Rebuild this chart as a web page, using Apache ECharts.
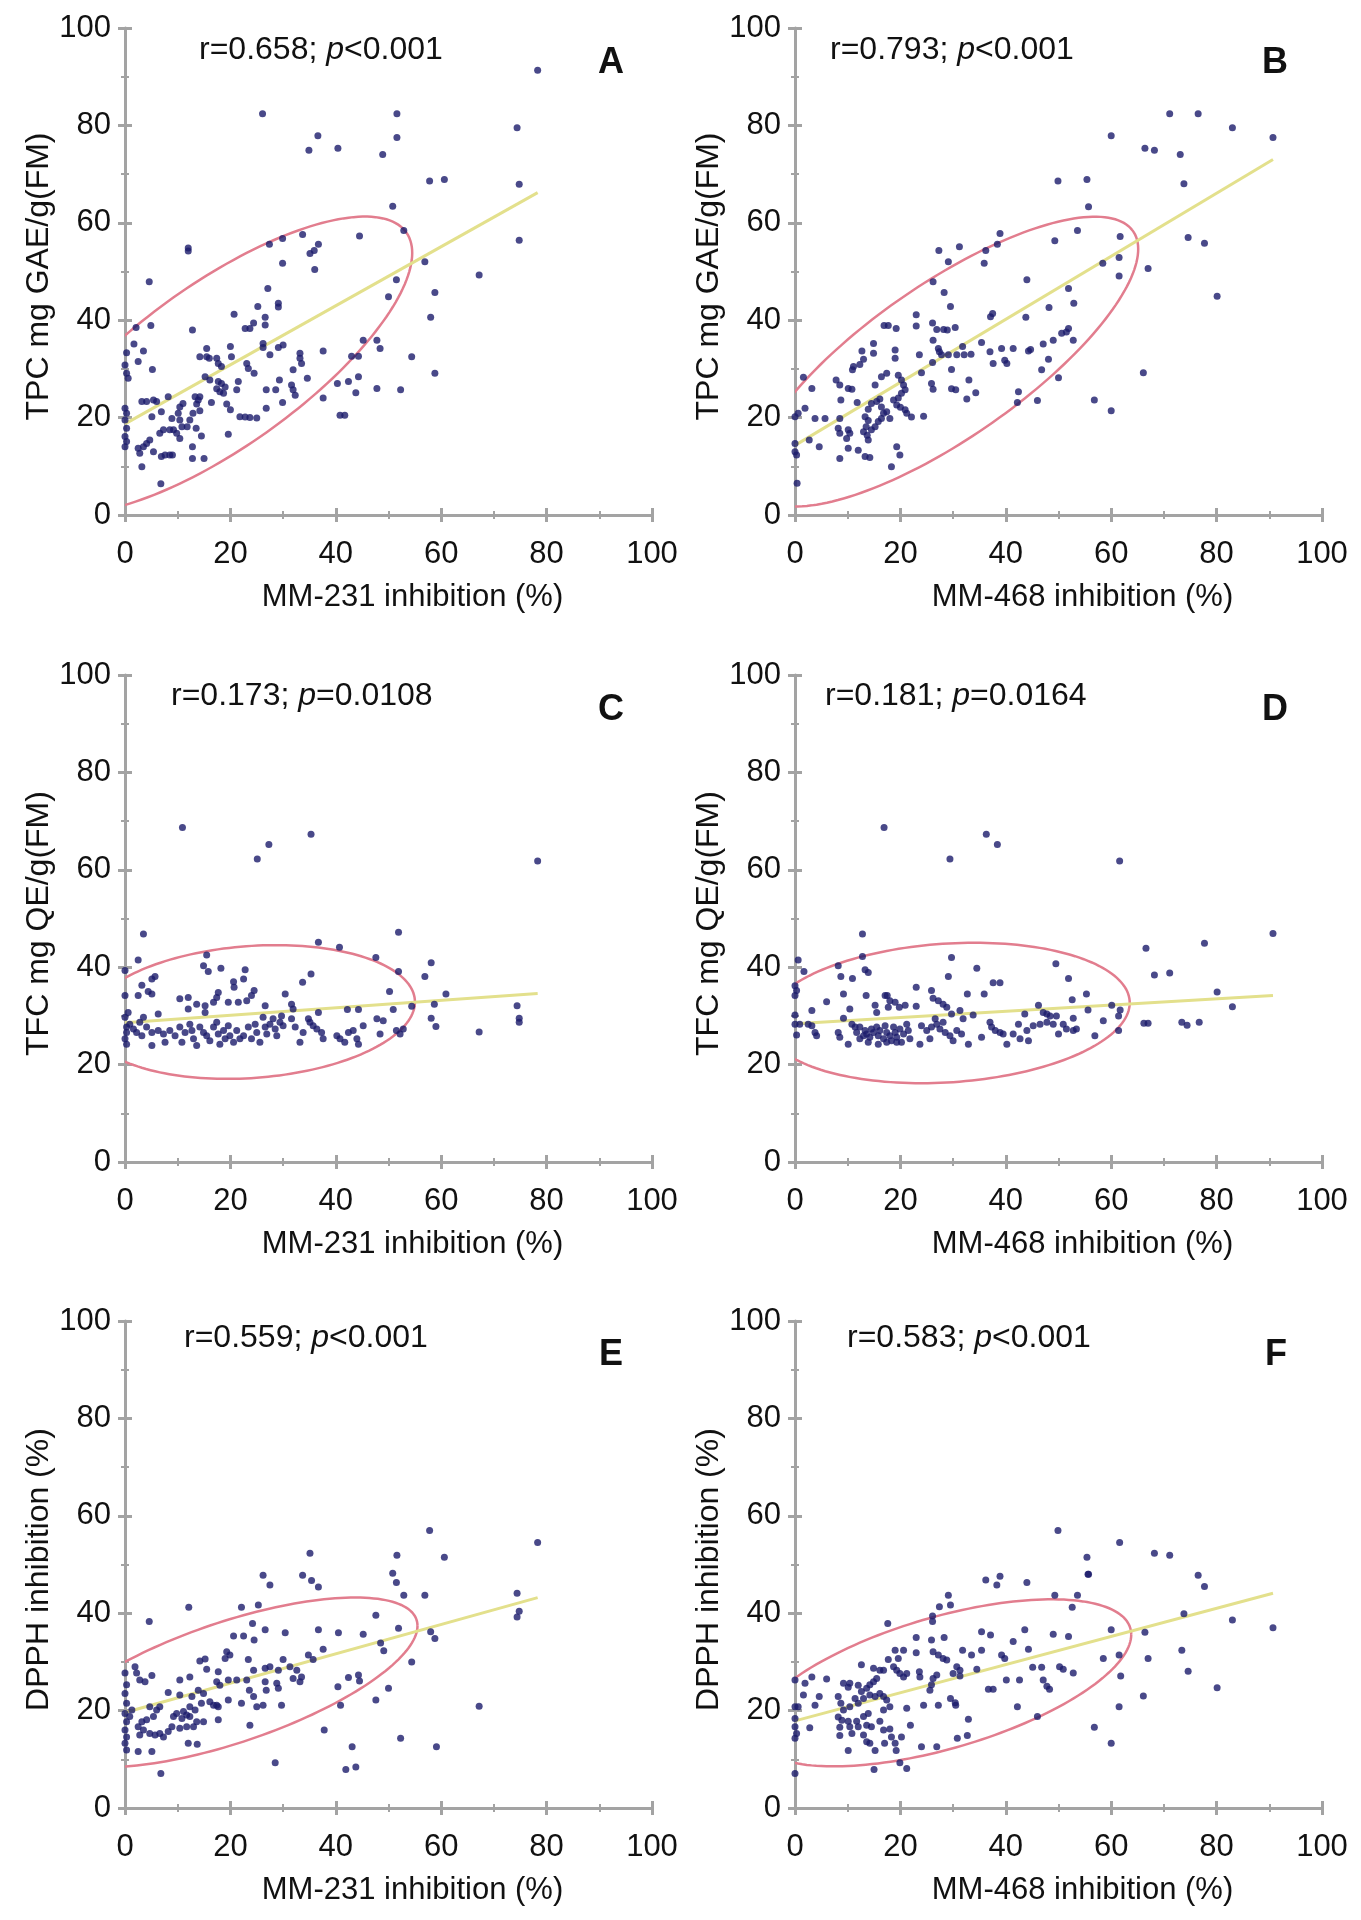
<!DOCTYPE html>
<html>
<head>
<meta charset="utf-8">
<script src="https://cdn.jsdelivr.net/npm/echarts@6/dist/echarts.min.js"></script>
<style>
html,body{margin:0;padding:0;background:#fff;}
#chart{width:1361px;height:1920px;}
</style>
</head>
<body>
<div id="chart"></div>
<script>
// ---------- DATA ----------
const xTicks = [0, 20, 40, 60, 80, 100];
const yTicks = [0, 20, 40, 60, 80, 100];
const xNames = ['MM-231 inhibition (%)', 'MM-468 inhibition (%)', 'MM-231 inhibition (%)', 'MM-468 inhibition (%)', 'MM-231 inhibition (%)', 'MM-468 inhibition (%)'];
const yNames = ['TPC mg GAE/g(FM)', 'TPC mg GAE/g(FM)', 'TFC mg QE/g(FM)', 'TFC mg QE/g(FM)', 'DPPH inhibition (%)', 'DPPH inhibition (%)'];
const rValues = ['0.658', '0.793', '0.173', '0.181', '0.559', '0.583'];
const pValues = ['<0.001', '<0.001', '=0.0108', '=0.0164', '<0.001', '<0.001'];
const panelLetters = ['A', 'B', 'C', 'D', 'E', 'F'];

// panel A: TPC vs MM-231
const tpc231 = [[50.8,63.4],[52.9,58.4],[44.5,57.3],[33.7,57.6],[29.9,56.8],[27.4,55.6],[36.7,55.6],[35.9,54.3],[35.1,53.7],[36,50.4],[29.9,51.7],[12,54.8],[12,54.2],[4.6,47.9],[27.1,46.5],[25.2,42.8],[29.1,43.5],[29.1,42.7],[20.7,41.2],[26.6,40.6],[26.6,39],[24.4,39.4],[23.7,38.3],[22.8,38.3],[2.1,38.5],[4.9,38.9],[12.8,38],[26.2,35.2],[26.2,34.4],[30,34.9],[29.1,34.4],[27.5,32.9],[1.7,35.1],[3.5,33.7],[0.3,33.3],[2.5,31.5],[0,30.8],[0.3,29.1],[0.6,28.1],[5.2,29.9],[15.5,34.2],[14.2,32.5],[15.5,32.5],[16,32.2],[17.4,32.2],[17.7,31.1],[18.3,30.5],[20,34.6],[20.2,32.5],[23.1,31.1],[23.4,30.1],[24.5,29.1],[15.2,28.4],[16.1,27.7],[17.7,27.4],[18.3,27],[19,26.3],[17.4,25.9],[18,25.3],[18.7,25],[21.2,25.7],[21.5,27.4],[33.2,33.2],[33.2,32.2],[33.5,31.1],[31.9,29.8],[34.6,28.1],[29.3,27.7],[31.6,26.7],[31.9,25.7],[32.3,24.6],[26.8,25.7],[28.6,25.7],[29.9,23.1],[26.8,21.9],[37.6,33.7],[43,32.6],[44.3,32.6],[45.2,35.9],[47.8,35.9],[48.4,34.2],[54.4,32.5],[58.8,29.1],[40.3,27],[42.4,27.4],[44.3,28.4],[43.8,25.1],[47.8,26],[52.3,25.7],[37.6,24],[40.8,20.5],[41.7,20.5],[50,44.8],[51.5,48.3],[56.9,52],[58,40.6],[58.8,45.7],[20,21.6],[21.8,20.2],[22.8,20.1],[23.7,20],[25,19.9],[19.6,16.6],[19.3,22.8],[16.4,23.1],[14.2,24.3],[13.9,23.6],[13.6,22.8],[13.3,24.3],[14.2,21.4],[12.9,20.9],[12.3,19.5],[11.8,18.1],[11,22.9],[10.4,22.2],[10.1,20.9],[10.4,19.5],[10.8,18.1],[9.8,16.8],[10.4,15.7],[8.9,19.8],[9.2,17.5],[8.2,24.3],[6.9,21.2],[5.1,20.2],[3.2,23.3],[4.1,23.3],[5.4,23.6],[6,23.3],[0,21.9],[0.3,20.9],[0,19.5],[0.3,17.8],[0,16.1],[0.3,15.1],[0,14],[2.5,13.7],[2.8,12.7],[3.5,14],[4.1,14.7],[4.7,15.4],[5.4,13],[6.6,16.8],[6.9,12],[7.3,17.5],[8.5,17.5],[7.6,12.3],[8.5,12.3],[9,12.3],[3.2,9.9],[6.8,6.4],[12.8,14],[12.8,11.6],[15,11.6],[14.5,16.2],[13.5,17.8],[78.3,91.3],[26.1,82.4],[51.6,82.4],[51.6,77.5],[74.4,79.5],[36.6,77.9],[34.9,74.9],[40.4,75.3],[48.9,74],[74.8,67.9],[57.8,68.6],[60.6,68.9],[74.8,56.4],[67.2,49.3]];

// panel B: TPC vs MM-468
const tpc468 = [[55.7,63.3],[53.6,58.4],[49.3,56.3],[61.7,57.2],[58.4,51.7],[61.5,52.9],[61.5,49.1],[44,48.3],[38.9,57.8],[38.4,55.6],[36.2,54.3],[35.9,51.7],[31.2,55.1],[27.3,54.3],[29.1,52],[26.2,47.9],[28.3,45.7],[29.5,42.8],[23,41.1],[23,38.8],[16.9,38.9],[17.7,38.9],[19.2,38.3],[26.1,39.4],[26.9,38.1],[28.2,38.1],[28.9,38],[30.4,38.5],[26.2,35.9],[37.1,40.7],[37.5,41.4],[43.8,40.6],[48.2,42.6],[51.9,46.5],[52.9,43.5],[52.8,35.9],[51.9,38.3],[51.5,37.6],[50.6,37.3],[49,35.9],[47.1,35.1],[48.1,32],[46.8,29.8],[50,28.2],[44.7,34],[44.3,33.7],[41.4,34.2],[39.2,34.2],[39.8,31.8],[40.2,31.1],[37.6,31.1],[37,33.5],[35.4,35.4],[31.8,34.6],[33.4,33],[32.1,32.9],[30.7,32.9],[29.1,32.9],[27.8,32.9],[27.2,34.2],[27.4,33.5],[26.1,31.3],[23.6,32.9],[29.7,29.9],[24,29.2],[33,27.7],[29.7,25.9],[30.5,25.7],[34.3,25.1],[32.6,23.8],[42.4,25.3],[42.2,23.1],[46,23.5],[56.8,23.6],[60,21.4],[25.9,27],[26.2,25.8],[24.4,20.3],[22.1,20.1],[19,33.9],[19,32.2],[14.9,35.2],[14.9,33.2],[12.7,33.7],[13,32],[12.3,30.9],[11.1,30.5],[10.9,29.8],[7.8,27.7],[8.5,26.7],[10.1,26],[10.8,25.8],[17.4,29.1],[16.4,28.4],[15.2,26.7],[19.6,28.7],[20.2,27.7],[20.6,26.7],[20.9,25.7],[20.2,25],[19.6,24],[18.7,23.6],[16.1,23.8],[15.5,23.3],[14.5,22.9],[13.9,21.7],[16.4,22.2],[17.4,21.2],[18,19.8],[19.3,22.6],[20,22.1],[20.9,21.6],[21.2,20.9],[11.8,23.1],[8.7,23.6],[13.3,20.2],[13.9,19.4],[13.5,18.1],[13,17.1],[13.7,16.4],[14.5,17.5],[15.2,18.1],[13.9,15.4],[15.8,19.2],[16.4,19.8],[16.8,20.9],[8.5,19.8],[8.2,17.8],[8.5,16.8],[9.8,15.7],[10.4,16.8],[10.1,17.5],[8.5,11.6],[10.1,13.7],[12,13.3],[13.3,12],[14.2,11.8],[5.7,19.8],[3.8,19.8],[1.9,21.9],[0.6,20.9],[0,20.2],[1.6,28.3],[3.2,26],[2.7,15.4],[4.6,14],[0,14.7],[0.3,12.3],[0,13],[0.4,6.5],[18.3,9.9],[19.3,14],[19.9,12.3],[71.1,82.4],[76.5,82.4],[83,79.5],[90.7,77.5],[60,77.9],[66.4,75.3],[68.2,74.9],[73.1,74],[73.8,68],[49.9,68.6],[55.4,68.9],[74.6,57],[77.7,55.8],[67,50.6],[80.1,44.9],[66.1,29.2]];

// panel C: TFC vs MM-231
const tfc231 = [[3.5,46.8],[2.5,41.5],[0,39.3],[15.5,42.5],[14.9,40.3],[15.8,39.1],[18.2,39.8],[22.8,39.5],[22.5,37.6],[20.6,37],[20.7,35.9],[5.7,38.1],[5.1,37.6],[3.2,36.3],[4.4,35],[5.1,34.5],[0,34.2],[2.5,34.2],[36.7,45.1],[40.7,44.1],[51.9,47.2],[47.6,42],[51.9,39.1],[56.9,38.1],[58.1,40.9],[35.3,38.6],[33.7,36.9],[60.9,34.5],[50.2,35],[30.4,34.5],[24.5,35.2],[24,34.2],[23.1,33.1],[17.7,34.8],[17.4,33.8],[16.8,32.8],[19.6,32.8],[21.5,32.8],[10.4,33.5],[12,33.8],[13.6,32.4],[15.2,32.1],[15.2,30.7],[12,31.4],[26.6,32.1],[31.6,32.4],[31.9,31.4],[36.7,30.7],[42.2,31.3],[44.3,31.3],[50.9,31.3],[54.4,32],[58.7,32.4],[58.1,29.5],[59,27.8],[0,29.7],[0.6,30.7],[6.3,30.4],[3.5,29.7],[2.8,28.7],[0.9,28.3],[0.3,27.7],[0.3,26.6],[0,25.3],[0.3,24.2],[1.6,27.3],[2.2,26.6],[3.2,25.9],[4.1,27.7],[5.1,26.6],[5.1,23.9],[6.3,27],[7.3,26.3],[7.6,24.6],[8.5,27],[9.5,25.9],[10.4,27.7],[10.8,24.6],[11.4,26.6],[12.3,28.3],[12.7,27],[13,25.3],[13.6,23.9],[14.2,27.7],[14.9,26.6],[15.5,25.9],[16.1,24.9],[16.8,27.7],[17.4,28.7],[17.7,26.3],[18,24.2],[18.7,27],[19,25.3],[19.6,28],[19.9,25.9],[20.6,24.6],[21.2,27],[21.8,25.3],[22.5,25.9],[23.4,27.7],[24,25.3],[24.7,28.3],[25,26.6],[25.6,24.6],[26.2,29.7],[26.6,27.7],[26.9,26.3],[27.5,28.3],[28.1,29.4],[28.5,27.3],[28.8,25.9],[29.4,28.7],[29.7,30],[30,28],[31.6,29.4],[32.3,27.7],[33.2,24.6],[33.8,26.6],[34.8,29.4],[35.1,28.7],[35.7,28],[36.4,27.3],[37.3,26.6],[37.6,25.3],[40.2,25.9],[40.8,25.3],[41.7,24.6],[42.4,26.6],[43.3,27],[44,25.3],[44.3,24.2],[45.2,28],[47.8,29.4],[48.4,26.3],[49,29],[51.5,27],[52.2,26.3],[52.8,27.3],[10.9,68.7],[25.1,62.2],[27.3,65.2],[35.3,67.3],[78.3,61.8],[74.4,32.1],[74.8,29.5],[74.8,28.7],[67.2,26.7]];

// panel D: TFC vs MM-468
const tfc468 = [[12.8,46.8],[12.8,42.2],[0.6,41.5],[8.2,40.3],[13.3,39.5],[13.9,38.9],[1.7,39.1],[8.7,38.1],[10.9,37.7],[29.7,42],[29.1,38.1],[34.5,39.8],[37.6,36.8],[38.9,36.8],[49.5,40.7],[51.9,37.7],[0,36.2],[0.3,35.2],[0,34.2],[23,35.9],[25.9,35.2],[32.7,34.5],[35.9,34.5],[55.3,34.5],[9.2,34.5],[13.5,34.2],[17.1,34.2],[17.5,34.2],[52.6,33.3],[6,32.9],[15.2,32.2],[15.5,30.7],[18,33.1],[19,32.8],[19.8,31.8],[20.9,32.2],[23,32],[26.2,33.6],[27.2,33.1],[28.1,32.4],[28.8,31.8],[17.7,31.8],[10.4,31.4],[3.2,31.1],[46.2,32.2],[55.6,31.2],[60.1,32.2],[61.7,31.2],[61.4,30],[31.3,31.1],[29.7,30.4],[31.9,29.4],[33.8,30.2],[43.6,30.4],[47.1,30.7],[47.8,30.4],[48.4,30],[49.6,30],[52.8,29.5],[58.5,29],[0,30.2],[0,28.3],[0.9,28.3],[2.5,28.3],[3.2,28],[0.3,26.1],[3.8,26.6],[4.1,25.9],[9.2,29.5],[8.2,26.6],[8.5,25.6],[10.1,24.2],[10.8,28.3],[11.4,27.7],[12.3,27.7],[13.3,27],[13.6,26.3],[14.2,25.6],[14.5,27.3],[14.9,26.6],[15.5,27.7],[15.8,25.9],[16.1,27],[16.8,25.3],[17.1,28],[17.4,26.6],[18,25.9],[18.3,24.9],[18.7,27.7],[19,26.6],[19.3,25.6],[19.9,27.3],[20.2,24.6],[20.6,26.3],[21.2,28.3],[21.5,27],[21.8,25.3],[12.3,25.3],[13,25.9],[11.7,26.6],[13.9,24.6],[15.8,24.2],[17.4,24.6],[19.3,24.6],[24,28],[23.7,24.2],[25,27],[25.6,25.3],[25.9,27.7],[26.6,29.4],[26.9,28.3],[27.5,27.3],[28.1,28.7],[28.5,26.6],[29.4,25.9],[30,24.9],[30.7,27],[31.6,26.3],[32.9,24.2],[35.4,25.6],[37,28.7],[37.3,27.7],[38,27],[38.9,26.6],[39.5,26.3],[40.2,24.2],[41.4,26.3],[42.4,28.3],[42.7,25.3],[44,27],[44.3,24.9],[45.2,28],[46.5,28.3],[47.8,28.7],[49,28.3],[50,26.3],[50.9,28.3],[51.5,27.3],[52.8,27],[53.4,27.3],[56.9,25.9],[61.4,27],[16.9,68.7],[36.3,67.3],[38.4,65.2],[29.4,62.2],[61.6,61.8],[90.7,46.9],[66.6,43.9],[77.7,44.9],[68.2,38.4],[71.1,38.8],[80.1,34.9],[83,31.9],[66.2,28.5],[67,28.5],[73.4,28.7],[74.4,28.1],[76.7,28.7]];

// panel E: DPPH vs MM-231
const dpph231 = [[26.2,47.8],[27.5,45.8],[33.7,47.8],[35.4,46.7],[36.7,45.4],[50.8,48.2],[51.5,46.3],[52.9,43.7],[56.9,43.7],[12.1,41.2],[22.1,41.2],[25.3,41.7],[4.6,38.3],[47.6,39.6],[24.2,37.9],[26.6,36.6],[30.4,36],[36.7,36.6],[40.5,36],[45.2,35.7],[51.9,36.9],[58,36.2],[58.8,34.8],[48.5,33.9],[49.1,32.3],[20.6,35.3],[22.5,35.3],[24.5,34.5],[37.6,32.6],[54.4,30],[19.3,32.1],[19.9,31.4],[19,30.7],[14.2,30.2],[15.2,30.6],[15.5,28.5],[17.7,28],[17.4,25.9],[18,25.2],[23.4,30.5],[24.4,28.3],[26.6,28.7],[27.5,29],[29.1,28.3],[30,30.5],[31.3,29],[32.6,28.3],[33.5,26.9],[31.9,26.6],[33.2,25.9],[34.8,31.4],[35.7,30.5],[19.6,26.3],[21.2,26.3],[23.1,26.3],[26.6,25.9],[28.8,25.6],[26.8,24.2],[29.1,24.6],[23.6,24.2],[24.4,22.9],[22.1,21.5],[25,20.8],[26.2,21.1],[19.6,22.2],[17.4,21.1],[17.7,20.8],[29.7,21.1],[17.7,18.1],[23.7,17],[10.4,26.3],[12.3,26.9],[8.2,23.7],[10.4,23.2],[12.7,22.9],[13.9,24.2],[14.9,23.5],[12.3,20.8],[13.3,20.1],[14.5,21.5],[16.1,21.8],[16.8,21.1],[11.1,19.8],[9.8,19.4],[9.2,18.8],[10.8,18.4],[11.7,19.1],[12.3,18.8],[13.6,17.7],[13,16.7],[14.9,17.7],[8.9,16.7],[10.4,16.4],[11.7,16.7],[7.3,14.6],[8.2,15.7],[6.6,15.3],[12,13.3],[13.7,13.1],[4.7,20.8],[6,20.1],[6.6,20.8],[5.4,18.8],[4.1,18.1],[3.2,17.7],[2.5,16.7],[3.5,16],[4.7,15.3],[5.7,15],[2.8,15],[5.1,11.6],[2.5,11.6],[6.8,7.1],[3.8,25.9],[1.9,29],[2.2,27.7],[2.8,26.3],[5.1,27.2],[0,27.7],[0.3,25.3],[0,23.5],[0.3,21.5],[0,19.4],[0.3,17.7],[0,16],[0.3,14.6],[0,13.3],[0.3,11.9],[0.9,18.8],[1.3,20.1],[28.5,9.3],[37.8,16],[40.4,24.9],[40.9,21.1],[42.4,26.8],[44.3,27.3],[44.5,26.1],[50,24.6],[47.6,22.2],[43.1,12.6],[41.9,7.9],[43.8,8.4],[52.3,14.3],[59.1,12.6],[57.8,57],[78.3,54.5],[60.6,51.5],[51.6,51.9],[35.1,52.3],[74.4,44.1],[74.8,40.4],[74.4,39.2],[67.2,20.9]];

// panel F: DPPH vs MM-468
const dpph468 = [[36.2,46.8],[38.9,47.6],[38.3,45.8],[44,46.3],[55.7,48],[29.1,43.7],[29.5,41.7],[27.4,41.3],[26.1,39.4],[26.1,38.3],[49.3,43.7],[53.6,43.7],[52.6,41.2],[17.6,37.9],[35.4,36.2],[37.1,35.5],[43.6,36.6],[49,35.7],[51.9,35.2],[60,36.6],[23,35],[25.9,34.5],[28.3,35],[41.4,34.2],[44.3,32.6],[19,32.4],[20.6,32.4],[23,31.9],[26.2,32.1],[27.2,31.4],[28.1,30.7],[28.8,30.4],[31.8,32.4],[33.5,31.4],[35.4,32.4],[39.2,31.4],[39.8,30.7],[58.5,30.7],[61.5,31.4],[61.8,27.1],[61.5,20.8],[17.7,30.5],[19.6,30.7],[12.6,29.4],[14.9,28.7],[16.1,28.3],[18.7,29],[19.3,28.3],[19.9,27.6],[20.6,26.9],[21.2,27.6],[16.8,28.3],[23.6,28],[23.7,26.9],[26.2,26.6],[26.9,27.3],[25.9,25.3],[25.6,24.2],[30.7,29],[31.3,28.3],[30,27.6],[31.3,27.1],[34.5,28.5],[45.1,28.9],[46.8,28.9],[50.2,29],[50.9,28.5],[52.8,27.7],[40.1,26.3],[42.6,26.3],[47.1,26.3],[47.8,25],[48.3,24.4],[36.7,24.4],[37.6,24.4],[29.5,22.5],[30.4,21.6],[30.5,21.1],[27.2,21.1],[24.4,21.1],[21.2,20.5],[21.9,17],[32.9,18.2],[30.8,14.3],[32.7,14.9],[26.9,12.6],[24,12.6],[42.2,20.8],[46,18.8],[56.8,16.6],[60,13.3],[19.9,9.3],[21.2,8.1],[15,7.9],[10.1,11.8],[15.2,11.8],[17,13.3],[19.2,11.8],[0,7.1],[0,26.3],[1.9,25.6],[3.2,26.9],[6,26.5],[1.6,23.2],[4.6,22.9],[3.8,21.1],[0,20.8],[0.6,20.8],[0,18.4],[0,16.7],[0.3,15.3],[0,14.3],[2.8,16.5],[8.2,22.9],[8.7,21.5],[9.2,25.6],[10.4,25.6],[10.1,24.8],[12,25.2],[12.6,23.9],[13.6,24.6],[14.2,25.3],[14.9,25.9],[15.5,26.6],[11.4,22.5],[12,21.5],[13,22.5],[14.2,23.2],[15.2,22.9],[16.1,23.5],[16.8,22.9],[17.4,22.2],[18,20.8],[16.8,20.1],[8.2,18.7],[8.9,18],[8.5,16.6],[8.5,14.9],[10.1,17.8],[10.4,16.7],[10.8,15.3],[11.7,17.8],[12,16.7],[13,18.8],[13.9,19.4],[13.6,17],[14.5,16.7],[13,15],[13.6,13.6],[14.2,13.3],[16.1,17.8],[16.8,16],[18,16.2],[18.3,14.6],[19,13.3],[20.2,14.6],[10.4,20.8],[9.2,20.1],[49.9,57],[61.6,54.5],[68.2,52.3],[71.1,51.9],[55.4,51.5],[55.6,48],[76.5,47.8],[77.7,45.5],[73.8,39.9],[83,38.6],[90.7,37],[73.4,32.4],[74.6,28.1],[67,30.7],[66.4,36.1],[66.1,23],[80.1,24.7]];

// regression line end points [x, y]
const trendA = [[0, 18.7], [78.3, 66.2]];
const trendB = [[0, 14.3], [90.7, 73.0]];
const trendC = [[0, 28.6], [78.3, 34.6]];
const trendD = [[0, 28.4], [90.7, 34.2]];
const trendE = [[0, 19.6], [78.3, 43.2]];
const trendF = [[0, 17.9], [90.7, 44.1]];

// highlight ellipses: centre, two conjugate semi-diameters (data units)
const ellipseA = { c: [18, 30.8], u: [36.5, 23], v: [0, 20] };
const ellipseB = { c: [28.5, 31.5], u: [35.5, 27], v: [-9, 12.5] };
const ellipseC = { c: [24, 30.8], u: [31, 2.5], v: [-1, 13.5] };
const ellipseD = { c: [29, 30.6], u: [34.5, 2.5], v: [-1, 14.2] };
const ellipseE = { c: [20, 25.8], u: [35.5, 11.6], v: [0, 13] };
const ellipseF = { c: [28, 25.7], u: [35.8, 9.9], v: [0, 14] };

// ---------- CHART ----------
const FONT = '"Liberation Sans", Arial, Helvetica, sans-serif';
const AXIS_COLOR = '#a3a3a3';
const POINT_COLOR = '#1b1b6b';
const TREND_COLOR = '#e3e08c';
const ELLIPSE_COLOR = '#e27d8e';

const panelData = [tpc231, tpc468, tfc231, tfc468, dpph231, dpph468];
const panelTrend = [trendA, trendB, trendC, trendD, trendE, trendF];
const panelEllipse = [ellipseA, ellipseB, ellipseC, ellipseD, ellipseE, ellipseF];

const gridLefts = [125, 795];
const gridTops = [28, 675, 1321];
const gridW = 527, gridH = 487;
const statY = [50, 696, 1338];
const letterY = [63, 710, 1355];
const statX = [199, 830, 171, 825, 184, 847];
const letterX = [611, 1275, 611, 1275, 611, 1276];

const grids = [], xAxes = [], yAxes = [], series = [], graphics = [];

function axisBase(i, isX, overlay) {
  const o = {
    type: 'value', gridIndex: i, min: 0, max: 100, interval: 20,
    position: isX ? 'bottom' : 'left', offset: 0,
    splitLine: { show: false },
    axisLine: { show: !overlay, onZero: false, lineStyle: { color: AXIS_COLOR, width: 3 } },
    axisTick: { show: true, inside: overlay, length: 7, lineStyle: { color: AXIS_COLOR, width: 3 } },
    minorTick: { show: true, splitNumber: 2, length: 4, lineStyle: { color: AXIS_COLOR, width: 2 } },
    axisLabel: {
      show: !overlay, fontSize: 31, color: '#111', fontFamily: FONT,
      margin: isX ? 24 : 14,
      formatter: function (v) { return String((isX ? xTicks : yTicks).indexOf(v) >= 0 ? v : ''); }
    }
  };
  if (!overlay) {
    o.name = isX ? xNames[i] : yNames[i];
    o.nameLocation = 'middle';
    o.nameGap = isX ? 67 : 68;
    o.nameTextStyle = isX
      ? { fontSize: 31, color: '#111', fontFamily: FONT, padding: [0, 0, 0, 48] }
      : { fontSize: 32, color: '#111', fontFamily: FONT, padding: [0, 10, 0, 0] };
  }
  return o;
}

for (let i = 0; i < 6; i++) {
  const col = i % 2, row = Math.floor(i / 2);
  grids.push({ left: gridLefts[col], top: gridTops[row], width: gridW, height: gridH });
}
for (let i = 0; i < 6; i++) { xAxes.push(axisBase(i, true, false)); yAxes.push(axisBase(i, false, false)); }
for (let i = 0; i < 6; i++) { xAxes.push(axisBase(i, true, true)); yAxes.push(axisBase(i, false, true)); }

function ellipseSeries(i, e) {
  return {
    type: 'custom', xAxisIndex: i, yAxisIndex: i, clip: true, silent: true, z: 2,
    data: [[e.c[0], e.c[1]]],
    renderItem: function (params, api) {
      const pts = [];
      const n = 180;
      for (let k = 0; k <= n; k++) {
        const t = k / n * Math.PI * 2;
        const c = Math.cos(t), s = Math.sin(t);
        pts.push(api.coord([e.c[0] + c * e.u[0] + s * e.v[0], e.c[1] + c * e.u[1] + s * e.v[1]]));
      }
      const cs = params.coordSys;
      return {
        type: 'group',
        children: [{
          type: 'polyline',
          shape: { points: pts },
          style: { fill: null, stroke: ELLIPSE_COLOR, lineWidth: 2.5 }
        }],
        clipPath: { type: 'rect', shape: { x: cs.x, y: cs.y - 20, width: cs.width + 20, height: cs.height + 20 } }
      };
    }
  };
}

for (let i = 0; i < 6; i++) {
  series.push(ellipseSeries(i, panelEllipse[i]));
  series.push({
    type: 'line', xAxisIndex: i, yAxisIndex: i, data: panelTrend[i], symbol: 'none', silent: true, z: 3,
    lineStyle: { color: TREND_COLOR, width: 3 }
  });
  series.push({
    type: 'scatter', xAxisIndex: i, yAxisIndex: i, data: panelData[i], symbol: 'circle', symbolSize: 7, z: 4,
    itemStyle: { color: POINT_COLOR }
  });
  graphics.push({
    type: 'text', x: statX[i], y: statY[Math.floor(i / 2)],
    style: {
      text: 'r=' + rValues[i] + '; {it|p}' + pValues[i],
      fontSize: 32, fontFamily: FONT, fill: '#111', verticalAlign: 'middle', align: 'left',
      rich: { it: { fontStyle: 'italic', fontSize: 32, fontFamily: FONT, fill: '#111' } }
    }
  });
  graphics.push({
    type: 'text', x: letterX[i], y: letterY[Math.floor(i / 2)],
    style: {
      text: panelLetters[i], fontSize: 36, fontWeight: 'bold', fontFamily: FONT, fill: '#111',
      verticalAlign: 'middle', align: 'center'
    }
  });
}

const chart = echarts.init(document.getElementById('chart'), null, { renderer: 'canvas' });
chart.setOption({
  backgroundColor: '#ffffff',
  animation: false,
  grid: grids,
  xAxis: xAxes,
  yAxis: yAxes,
  series: series,
  graphic: graphics
});
</script>
</body>
</html>
